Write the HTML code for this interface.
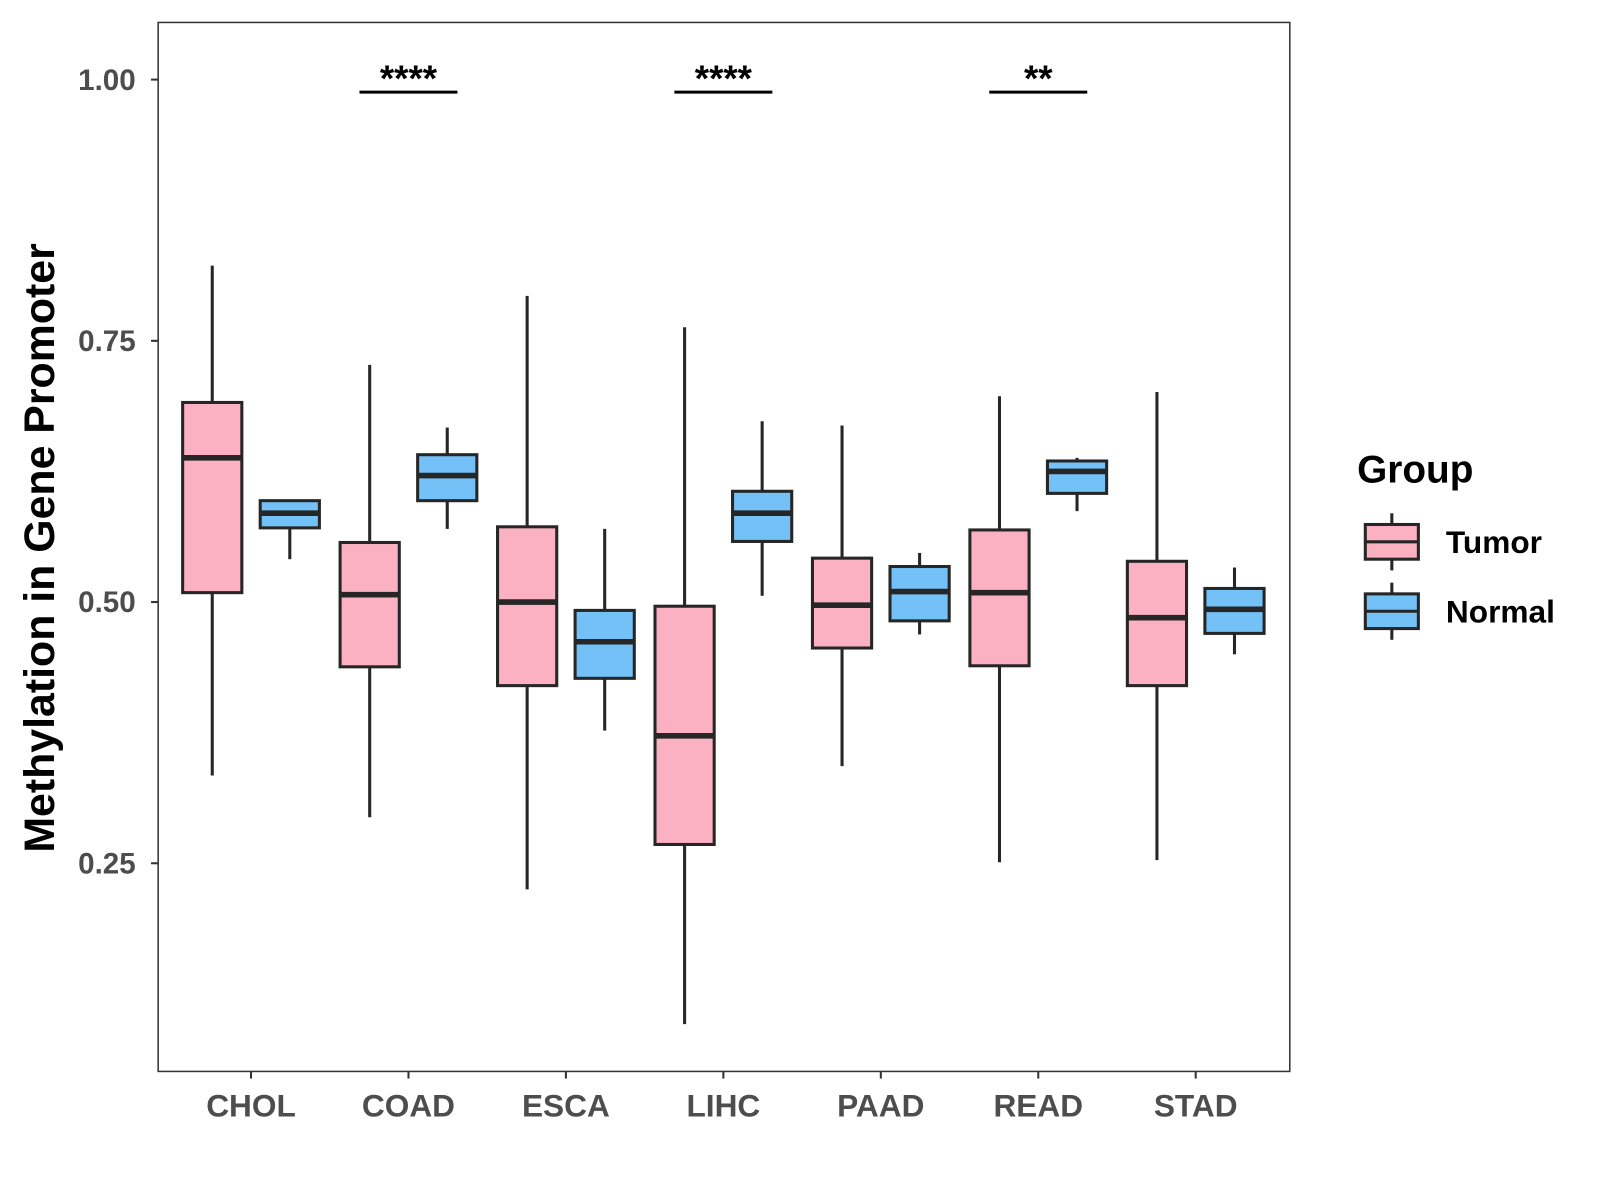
<!DOCTYPE html>
<html><head><meta charset="utf-8"><style>html,body{margin:0;padding:0;background:#fff}svg{display:block}</style></head>
<body>
<svg id="chart" width="1600" height="1200" viewBox="0 0 1568 1176" xmlns="http://www.w3.org/2000/svg" font-family="Liberation Sans, sans-serif">
<rect x="0" y="0" width="1568" height="1176" fill="#fff"/>
<g id="plot"></g>
</svg>
<script>
const categories=["CHOL","COAD","ESCA","LIHC","PAAD","READ","STAD"];
const tumorLow=[0.334,0.294,0.225,0.096,0.343,0.251,0.253];
const tumorQ1=[0.509,0.438,0.420,0.268,0.456,0.439,0.420];
const tumorMed=[0.638,0.507,0.500,0.372,0.497,0.509,0.485];
const tumorQ3=[0.691,0.557,0.572,0.496,0.542,0.569,0.539];
const tumorHigh=[0.822,0.727,0.793,0.763,0.669,0.697,0.701];
const normalLow=[0.541,0.570,0.377,0.506,0.469,0.587,0.450];
const normalQ1=[0.571,0.597,0.427,0.558,0.482,0.604,0.470];
const normalMed=[0.585,0.621,0.462,0.585,0.510,0.625,0.493];
const normalQ3=[0.597,0.641,0.492,0.606,0.534,0.635,0.513];
const normalHigh=[0.598,0.667,0.570,0.673,0.547,0.638,0.533];
const yTicks=[0.25,0.50,0.75,1.00];
const yTickLabels=["0.25","0.50","0.75","1.00"];
const sigLabels=["","****","","****","","**",""];
const legendLabels=["Tumor","Normal"];

const NS="http://www.w3.org/2000/svg";
const g=document.getElementById('plot');
function y(v){return 78+(1-v)*1024;}
function x(i){return 246+i*154.3;}
function mk(t,a,p){const e=document.createElementNS(NS,t);for(const k in a)e.setAttribute(k,a[k]);(p||g).appendChild(e);return e;}
const L=155,R=1264,T=22,B=1050;
mk('rect',{x:L,y:T,width:R-L,height:B-T,fill:'none',stroke:'#333','stroke-width':1.5});
yTicks.forEach((v,i)=>{
 const t=mk('line',{x1:L-7,x2:L,y1:y(v),y2:y(v),stroke:'#333','stroke-width':2});
 
 
 const lb=mk('text',{x:133,y:y(v)+10,'text-anchor':'end','font-size':29,'font-weight':'bold',fill:'#4d4d4d'});
 lb.textContent=yTickLabels[i];
 
 
});
categories.forEach((c,i)=>{
 const t=mk('line',{x1:x(i),x2:x(i),y1:B,y2:B+7,stroke:'#333','stroke-width':2});
 
 
 const lb=mk('text',{x:x(i),y:1094,'text-anchor':'middle','font-size':31,'font-weight':'bold',fill:'#4d4d4d'});
 lb.textContent=c;
 
 
});
function box(cx,lo,q1,md,q3,hi,fill,name){
 const bg=mk('g',{});
 
 
 mk('line',{x1:cx,x2:cx,y1:y(hi),y2:y(q3),stroke:'#262626','stroke-width':3},bg);
 mk('line',{x1:cx,x2:cx,y1:y(q1),y2:y(lo),stroke:'#262626','stroke-width':3},bg);
 mk('rect',{x:cx-29,y:y(q3),width:58,height:y(q1)-y(q3),fill:fill,stroke:'#262626','stroke-width':3},bg);
 mk('line',{x1:cx-29,x2:cx+29,y1:y(md),y2:y(md),stroke:'#262626','stroke-width':5.5},bg);
}
categories.forEach((c,i)=>{
 box(x(i)-38,tumorLow[i],tumorQ1[i],tumorMed[i],tumorQ3[i],tumorHigh[i],'#fcb1c3','tumor-box-'+c.toLowerCase());
 box(x(i)+38,normalLow[i],normalQ1[i],normalMed[i],normalQ3[i],normalHigh[i],'#74c1f8','normal-box-'+c.toLowerCase());
 if(sigLabels[i]){
  const ln=mk('line',{x1:x(i)-48,x2:x(i)+48,y1:y(0.988),y2:y(0.988),stroke:'#000','stroke-width':3});
  
  
  const st=mk('text',{x:x(i),y:y(0.988)-1,'text-anchor':'middle','font-size':36,'font-weight':'bold',fill:'#000'});
  st.textContent=sigLabels[i];
  
  
 }
});
const yt=mk('text',{transform:'translate(53,537) rotate(-90)','text-anchor':'middle','font-size':42,'font-weight':'bold',fill:'#000'});
yt.textContent='Methylation in Gene Promoter';


const lt=mk('text',{x:1330,y:473,'font-size':38,'font-weight':'bold',fill:'#000'});
lt.textContent='Group';


const fills=['#fcb1c3','#74c1f8'];
legendLabels.forEach((l,k)=>{
 const cy=531+k*68;
 const lg=mk('g',{});
 
 
 mk('line',{x1:1364,x2:1364,y1:cy-28,y2:cy+28,stroke:'#262626','stroke-width':3},lg);
 mk('rect',{x:1338,y:cy-17,width:52,height:34,fill:fills[k],stroke:'#262626','stroke-width':3},lg);
 mk('line',{x1:1338,x2:1390,y1:cy,y2:cy,stroke:'#262626','stroke-width':3},lg);
 const tx=mk('text',{x:1417,y:cy+11,'font-size':31,'font-weight':'bold',fill:'#000'},lg);
 tx.textContent=l;
});
</script>
</body></html>
